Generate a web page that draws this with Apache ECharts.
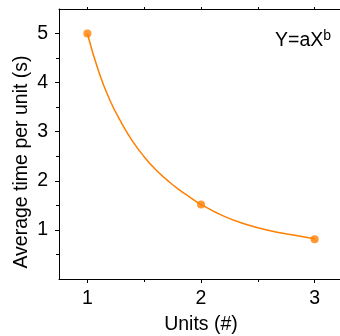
<!DOCTYPE html>
<html>
<head>
<meta charset="utf-8">
<script src="https://cdn.jsdelivr.net/npm/echarts@6/dist/echarts.min.js"></script>
<style>
html,body{margin:0;padding:0;background:#fff;}
#chart{width:340px;height:336px;}
</style>
</head>
<body>
<div id="chart"></div>
<script>
// Measured points
var unitsX = [1, 2, 3];
var timeY = [5.0, 1.52, 0.81];
// Fitted curve (Y = aX^b)
var curveX = [1.0, 1.1, 1.2, 1.3, 1.4, 1.5, 1.6, 1.7, 1.8, 1.9, 2.0, 2.2, 2.4, 2.6, 2.8, 3.0];
var curveY = [5.0, 4.22, 3.63, 3.18, 2.80, 2.49, 2.23, 2.02, 1.83, 1.67, 1.52, 1.28, 1.11, 0.99, 0.90, 0.82];
// Tick labels / positions
var xMajor = [1, 2, 3];
var xMinor = [1.5, 2.5];
var xTop = [1, 1.5, 2, 2.5, 3];
var yMajor = [1, 2, 3, 4, 5];
var yMinor = [0.5, 1.5, 2.5, 3.5, 4.5];

var ORANGE = '#FF7F00';
var FONT = 'Liberation Sans, Arial, sans-serif';
var FS = 19.5;

var chart = echarts.init(document.getElementById('chart'), null, {renderer: 'canvas'});

function pairs(xs, ys) { return xs.map(function (x, i) { return [x, ys[i]]; }); }

var xBase = {type: 'value', min: 0.75, max: 3.25, gridIndex: 0, splitLine: {show: false}};
var yBase = {type: 'value', min: 0, max: 5.5, gridIndex: 0, splitLine: {show: false}};

chart.setOption({
  animation: false,
  backgroundColor: '#fff',
  grid: {left: 59, top: 9, width: 284, height: 270, containLabel: false, outerBoundsMode: 'none'},
  xAxis: [
    Object.assign({}, xBase, {
      position: 'bottom',
      axisLine: {show: true, lineStyle: {color: '#000', width: 1}},
      axisTick: {show: true, customValues: xMajor, length: 4, lineStyle: {color: '#000'}},
      axisLabel: {show: true, customValues: xMajor, fontSize: FS, color: '#000', fontFamily: FONT, margin: 10},
      name: 'Units (#)', nameLocation: 'middle', nameGap: 36,
      nameTextStyle: {fontSize: FS, color: '#000', fontFamily: FONT}
    }),
    Object.assign({}, xBase, {
      position: 'bottom',
      axisLine: {show: false},
      axisTick: {show: true, customValues: xMinor, length: 3, lineStyle: {color: '#000'}},
      axisLabel: {show: false}
    }),
    Object.assign({}, xBase, {
      position: 'top',
      axisLine: {show: true, lineStyle: {color: '#000', width: 1}},
      axisTick: {show: true, customValues: xTop, length: 2, lineStyle: {color: '#000'}},
      axisLabel: {show: false}
    })
  ],
  yAxis: [
    Object.assign({}, yBase, {
      position: 'left',
      axisLine: {show: true, lineStyle: {color: '#000', width: 1}},
      axisTick: {show: true, customValues: yMajor, length: 4, lineStyle: {color: '#000'}},
      axisLabel: {show: true, customValues: yMajor, fontSize: FS, color: '#000', fontFamily: FONT, margin: 11}
    }),
    Object.assign({}, yBase, {
      position: 'left',
      axisLine: {show: false},
      axisTick: {show: true, customValues: yMinor, length: 3, lineStyle: {color: '#000'}},
      axisLabel: {show: false}
    })
  ],
  graphic: [
    {
      type: 'text', x: 22, y: 162, rotation: Math.PI / 2,
      style: {text: 'Average time per unit (s)', font: FS + 'px ' + FONT, fill: '#000', align: 'center', verticalAlign: 'middle'}
    },
    {
      type: 'text', x: 275, y: 29,
      style: {
        text: '{m|Y=aX}{s|b}', fill: '#000', font: FS + 'px ' + FONT,
        rich: {
          m: {fontSize: FS, fontFamily: FONT, lineHeight: 22, verticalAlign: 'bottom'},
          s: {fontSize: 14, fontFamily: FONT, lineHeight: 14, verticalAlign: 'top'}
        }
      }
    }
  ],
  series: [
    {
      type: 'line', xAxisIndex: 0, yAxisIndex: 0,
      data: pairs(curveX, curveY), smooth: true, showSymbol: false,
      lineStyle: {color: ORANGE, width: 1.5}, silent: true
    },
    {
      type: 'scatter', xAxisIndex: 0, yAxisIndex: 0,
      data: pairs(unitsX, timeY), symbol: 'circle', symbolSize: 8,
      itemStyle: {color: ORANGE}
    }
  ]
});
</script>
</body>
</html>
